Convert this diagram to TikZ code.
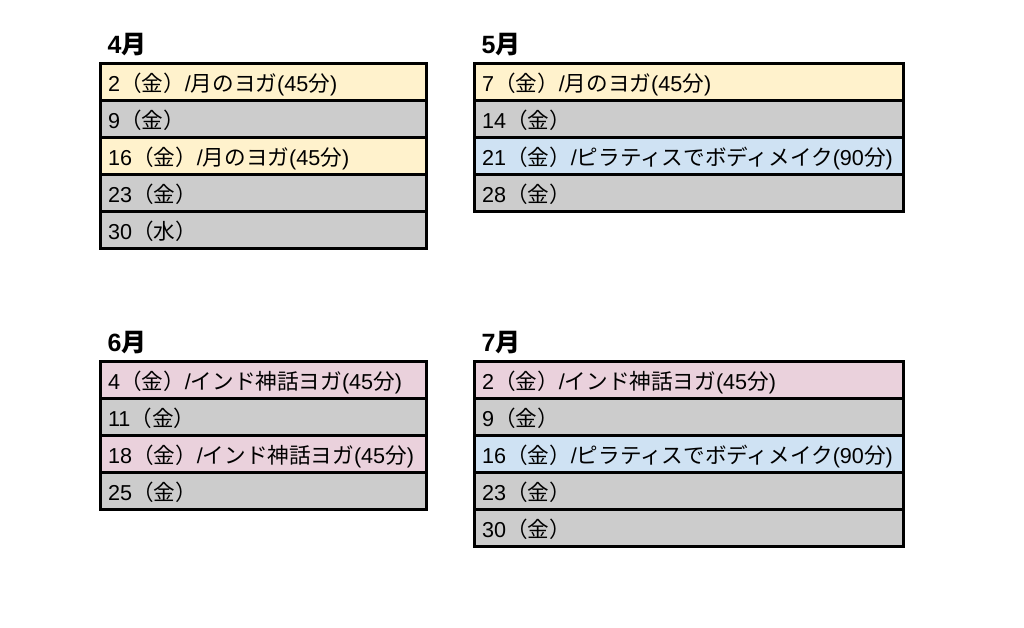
\documentclass[tikz,border=0pt]{standalone}
\usepackage{fontspec}
\setmainfont{Liberation Sans}
\newfontfamily\cjk{Noto Sans CJK JP}
\newcommand\J[1]{{\cjk #1}}
\definecolor{cyel}{HTML}{FFF2CC}
\definecolor{cgray}{HTML}{CCCCCC}
\definecolor{cblue}{HTML}{CFE2F3}
\definecolor{cpink}{HTML}{EAD1DC}
\begin{document}
\begin{tikzpicture}[x=1pt,y=-1pt,
  cell/.style={draw=black, line width=3pt, inner xsep=8pt, inner ysep=0pt, outer sep=0pt,
    text height=19pt, text depth=0pt, align=left, minimum height=37pt, anchor=north west,
    font=\fontsize{21.6}{24}\selectfont},
  narrow/.style={cell, text width=310pt},
  wide/.style={cell, text width=413pt},
  title/.style={anchor=base west, inner sep=0pt, font=\fontsize{25}{28}\selectfont\bfseries}]
\fill[white] (0,0) rectangle (1024,627);
\useasboundingbox (0,0) rectangle (1024,627);
% April
\node[title] (t4) at (107.5,53) {4\J{月}};
\node[narrow, fill=cyel]  (a1) at (100,63)  {\mbox{2\J{（金）}/\J{月のヨガ}(45\J{分})}};
\node[narrow, fill=cgray] (a2) at (100,100) {\mbox{9\J{（金）}}};
\node[narrow, fill=cyel]  (a3) at (100,137) {\mbox{16\J{（金）}/\J{月のヨガ}(45\J{分})}};
\node[narrow, fill=cgray] (a4) at (100,174) {\mbox{23\J{（金）}}};
\node[narrow, fill=cgray] (a5) at (100,211) {\mbox{30\J{（水）}}};
% May
\node[title] (t5) at (481.5,53) {5\J{月}};
\node[wide, fill=cyel]  (b1) at (474,63)  {\mbox{7\J{（金）}/\J{月のヨガ}(45\J{分})}};
\node[wide, fill=cgray] (b2) at (474,100) {\mbox{14\J{（金）}}};
\node[wide, fill=cblue] (b3) at (474,137) {\mbox{21\J{（金）}/\J{ピラティスでボディメイク}(90\J{分})}};
\node[wide, fill=cgray] (b4) at (474,174) {\mbox{28\J{（金）}}};
% June
\node[title] (t6) at (107.5,351) {6\J{月}};
\node[narrow, fill=cpink] (c1) at (100,361) {\mbox{4\J{（金）}/\J{インド神話ヨガ}(45\J{分})}};
\node[narrow, fill=cgray] (c2) at (100,398) {\mbox{11\J{（金）}}};
\node[narrow, fill=cpink] (c3) at (100,435) {\mbox{18\J{（金）}/\J{インド神話ヨガ}(45\J{分})}};
\node[narrow, fill=cgray] (c4) at (100,472) {\mbox{25\J{（金）}}};
% July
\node[title] (t7) at (481.5,351) {7\J{月}};
\node[wide, fill=cpink] (d1) at (474,361) {\mbox{2\J{（金）}/\J{インド神話ヨガ}(45\J{分})}};
\node[wide, fill=cgray] (d2) at (474,398) {\mbox{9\J{（金）}}};
\node[wide, fill=cblue] (d3) at (474,435) {\mbox{16\J{（金）}/\J{ピラティスでボディメイク}(90\J{分})}};
\node[wide, fill=cgray] (d4) at (474,472) {\mbox{23\J{（金）}}};
\node[wide, fill=cgray] (d5) at (474,509) {\mbox{30\J{（金）}}};
\end{tikzpicture}
\end{document}
